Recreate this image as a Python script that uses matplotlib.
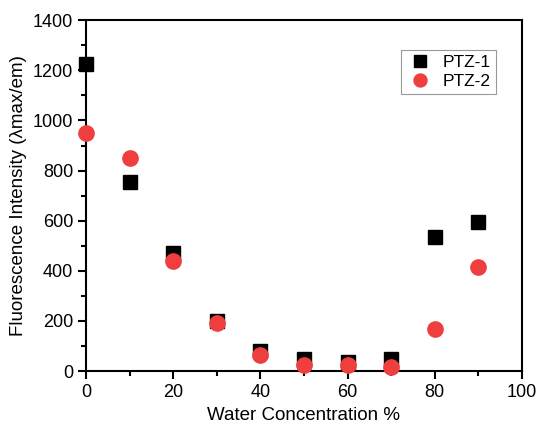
import numpy as np
import matplotlib
matplotlib.use("Agg")
import matplotlib.pyplot as plt

plt.rcParams['font.family'] = ['Liberation Sans', 'DejaVu Sans']

water = [0, 10, 20, 30, 40, 50, 60, 70, 80, 90]
ptz1 = [1225, 754, 471, 200, 80, 50, 35, 50, 535, 594]
ptz2 = [950, 850, 440, 192, 65, 25, 25, 18, 168, 415]

fig = plt.figure(figsize=(5.39, 4.30), dpi=100)
ax = fig.add_axes([0.16, 0.137, 0.808, 0.816])

ax.plot(water, ptz1, 's', color='black', markersize=9.5, label='PTZ-1',
        linestyle='none', clip_on=False, zorder=3)
ax.plot(water, ptz2, 'o', color='#ef3e3e', markersize=11, label='PTZ-2',
        linestyle='none', clip_on=False, zorder=4)

ax.set_xlim(0, 100)
ax.set_ylim(0, 1400)
ax.set_xticks(np.arange(0, 101, 20))
ax.set_xticks(np.arange(10, 100, 20), minor=True)
ax.set_yticks(np.arange(0, 1401, 200))
ax.set_yticks(np.arange(100, 1400, 200), minor=True)
ax.tick_params(which='both', direction='out', width=1.5, labelsize=13, top=False, right=False)
ax.tick_params(which='major', length=6)
ax.tick_params(which='minor', length=3.5)
for s in ax.spines.values():
    s.set_linewidth(1.5)

ax.set_xlabel('Water Concentration %', fontsize=13.5)
ax.set_ylabel('Fluorescence Intensity (\u03bbmax/em)', fontsize=13.5)

leg = ax.legend(loc='upper right', bbox_to_anchor=(0.96, 0.94), fontsize=12.5,
                fancybox=False, framealpha=1, edgecolor='#999999',
                handletextpad=0.5, handlelength=1.6, borderpad=0.3,
                labelspacing=0.2, markerscale=0.85)
leg.get_frame().set_linewidth(0.8)

fig.savefig('out.png', dpi=100)
